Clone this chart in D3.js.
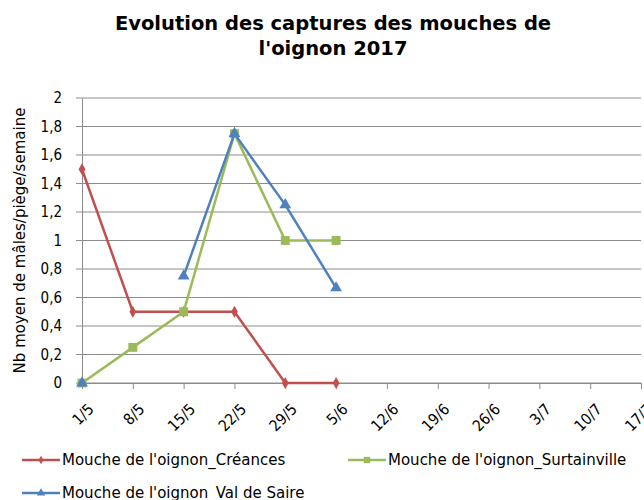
<!DOCTYPE html>
<html>
<head>
<meta charset="utf-8">
<script src="https://cdn.jsdelivr.net/npm/d3@7"></script>
<style>
  body { margin: 0; background: #fff; }
  text { font-family: "DejaVu Sans", Verdana, sans-serif; }
</style>
</head>
<body>
<div id="chart"></div>
<script>
const dates = ["1/5", "8/5", "15/5", "22/5", "29/5", "5/6", "12/6", "19/6", "26/6", "3/7", "10/7", "17/7"];
const creances = [1.5, 0.5, 0.5, 0.5, 0, 0, null, null, null, null, null, null];
const surtainville = [0, 0.25, 0.5, 1.75, 1, 1, null, null, null, null, null, null];
const valDeSaire = [0, null, 0.75, 1.75, 1.25, 0.667, null, null, null, null, null, null];
const yTicks = [0, 0.2, 0.4, 0.6, 0.8, 1, 1.2, 1.4, 1.6, 1.8, 2];

const series = [
  { name: "Mouche de l'oignon_Créances", values: creances, color: "#C0504D", shape: d3.symbolDiamond, size: 40 },
  { name: "Mouche de l'oignon_Surtainville", values: surtainville, color: "#9BBB59", shape: d3.symbolSquare, size: 80 },
  { name: "Mouche de l'oignon_Val de Saire", values: valDeSaire, color: "#4F81BD", shape: d3.symbolTriangle, size: 60 }
];

const width = 644, height = 500;
const margin = { left: 82, right: 3, top: 98, bottom: 117 };

const svg = d3.select("#chart")
  .append("svg")
  .attr("width", width)
  .attr("height", height);

let x = d3.scalePoint(dates, [margin.left, width - margin.right]);
let y = d3.scaleLinear([0, 2], [height - margin.bottom, margin.top]);

// title
svg.append("text")
  .attr("x", 333).attr("y", 30)
  .attr("text-anchor", "middle")
  .style("font-weight", "bold").style("font-size", "19.5px")
  .text("Evolution des captures des mouches de");
svg.append("text")
  .attr("x", 333).attr("y", 55)
  .attr("text-anchor", "middle")
  .style("font-weight", "bold").style("font-size", "19.5px")
  .text("l'oignon 2017");

// gridlines
svg.append("g")
  .selectAll("line")
  .data(yTicks)
  .join("line")
    .attr("x1", margin.left - 6)
    .attr("x2", width - margin.right)
    .attr("y1", d => y(d)).attr("y2", d => y(d))
    .attr("stroke", "#8c8c8c")
    .attr("stroke-width", 1);

// y axis
const yAxis = svg.append("g")
  .attr("transform", `translate(${margin.left},0)`)
  .call(d3.axisLeft(y).tickValues(yTicks).tickSize(0).tickPadding(20)
    .tickFormat(d => String(d).replace(".", ",")));
yAxis.select(".domain").attr("stroke", "#8c8c8c");
yAxis.selectAll("text").style("font-size", "15px").attr("fill", "#000")
  .style("font-family", "'DejaVu Sans Condensed', sans-serif");

// x axis
const xAxis = svg.append("g")
  .attr("transform", `translate(0,${y(0)})`)
  .call(d3.axisBottom(x).tickSize(6).tickSizeOuter(0));
xAxis.select(".domain").attr("stroke", "#8c8c8c");
xAxis.selectAll("line").attr("stroke", "#8c8c8c");
xAxis.selectAll("text")
  .style("font-size", "15.5px")
  .style("font-family", "'DejaVu Sans Condensed', sans-serif")
  .attr("fill", "#000")
  .attr("text-anchor", "end")
  .attr("dy", "0.35em")
  .attr("transform", "translate(2,17) rotate(-45)");

// y axis title
svg.append("text")
  .attr("transform", `translate(25,${(y(0) + y(2)) / 2}) rotate(-90)`)
  .attr("text-anchor", "middle")
  .style("font-size", "15px")
  .text("Nb moyen de mâles/piège/semaine");

const line = d3.line()
  .defined(d => d[1] != null)
  .x(d => x(d[0]))
  .y(d => y(d[1]));

series.forEach(s => {
  const pts = dates.map((k, i) => [k, s.values[i]]);
  svg.append("path")
    .attr("fill", "none")
    .attr("stroke", s.color)
    .attr("stroke-width", 2.5)
    .attr("d", line(pts));
  svg.append("g")
    .selectAll("path")
    .data(pts.filter(d => d[1] != null))
    .join("path")
      .attr("transform", d => `translate(${x(d[0])},${y(d[1])})`)
      .attr("d", d3.symbol(s.shape, s.size))
      .attr("fill", s.color);
});

// legend
const legendPos = [[22, 460], [348, 460], [22, 493]];
series.forEach((s, i) => {
  const [lx, ly] = legendPos[i];
  const g = svg.append("g").attr("transform", `translate(${lx},${ly})`);
  g.append("line").attr("x1", 0).attr("x2", 38).attr("stroke", s.color).attr("stroke-width", 2.5);
  g.append("path").attr("transform", "translate(19,0)")
    .attr("d", d3.symbol(s.shape, s.size * 0.5)).attr("fill", s.color);
  g.append("text").attr("x", 40).attr("dy", "0.35em")
    .style("font-size", "15px")
    .text(s.name);
});
</script>
</body>
</html>
